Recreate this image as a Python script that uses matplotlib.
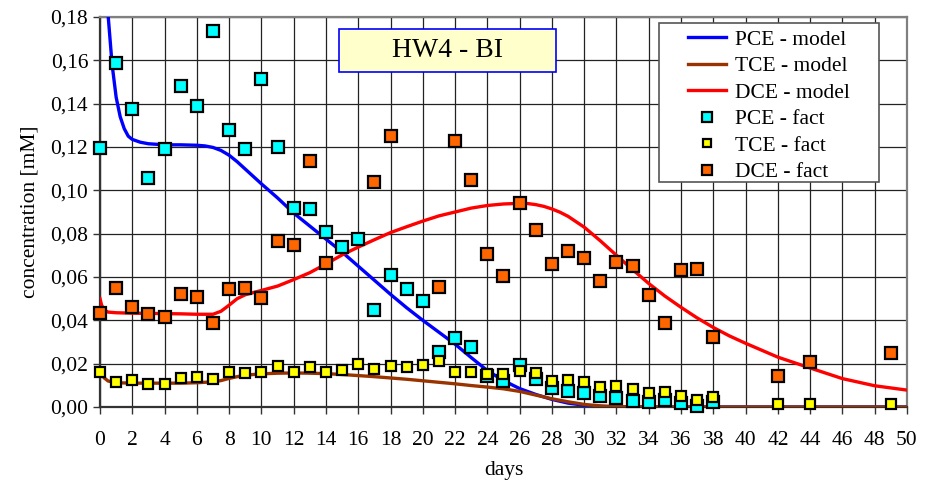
import matplotlib
matplotlib.use("Agg")
from matplotlib import pyplot as plt
from matplotlib.patches import Rectangle
import numpy as np

plt.rcParams['font.family'] = ['Liberation Serif', 'DejaVu Serif']

# measured data (days)
fact_days = [0, 1, 2, 3, 4, 5, 6, 7, 8, 9, 10, 11, 12, 13, 14, 15, 16, 17, 18, 19,
             20, 21, 22, 23, 24, 25, 26, 27, 28, 29, 30, 31, 32, 33, 34, 35, 36, 37, 38]
pce_fact = [0.1197, 0.1586, 0.1377, 0.1055, 0.1192, 0.148, 0.1389, 0.1737, 0.128, 0.1192,
            0.1514, 0.1201, 0.0917, 0.0914, 0.081, 0.0738, 0.0775, 0.045, 0.0608, 0.0545,
            0.0489, 0.0255, 0.0317, 0.0275, 0.0143, 0.012, 0.0195, 0.0127, 0.0086, 0.0074,
            0.0063, 0.0051, 0.004, 0.0029, 0.0022, 0.0032, 0.0017, 0.0006, 0.0023]
tce_days = fact_days + [42, 44, 49]
tce_fact = [0.016, 0.0116, 0.0124, 0.0105, 0.0105, 0.0135, 0.0139, 0.013, 0.0161, 0.0155,
            0.0162, 0.0191, 0.0161, 0.0183, 0.0163, 0.0171, 0.0198, 0.0174, 0.019, 0.0186,
            0.0194, 0.0214, 0.016, 0.0163, 0.0152, 0.0151, 0.0167, 0.0155, 0.0121, 0.0124,
            0.0114, 0.0091, 0.0098, 0.0083, 0.0063, 0.0068, 0.0052, 0.0032, 0.0047,
            0.0014, 0.0012, 0.0012]
dce_days = [0, 1, 2, 3, 4, 5, 6, 7, 8, 9, 10, 11, 12, 13, 14, 17, 18, 21, 22, 23, 24, 25,
            26, 27, 28, 29, 30, 31, 32, 33, 34, 35, 36, 37, 38, 42, 44, 49]
dce_fact = [0.0435, 0.0548, 0.046, 0.043, 0.0414, 0.0521, 0.0506, 0.0386, 0.0546, 0.0549,
            0.0501, 0.0765, 0.0749, 0.1136, 0.0665, 0.104, 0.125, 0.0552, 0.1226, 0.105,
            0.0706, 0.0604, 0.094, 0.0817, 0.066, 0.072, 0.0686, 0.058, 0.0669, 0.065,
            0.0517, 0.0388, 0.0632, 0.0637, 0.0323, 0.0143, 0.021, 0.0249]

# model curves
pce_model_days = [0, 0.25, 0.5, 0.75, 1.0, 1.25, 1.5, 1.75, 2, 2.5, 3, 4, 5, 6, 6.5, 7,
                  7.5, 8, 8.5, 9, 10, 11, 12, 13, 14, 15, 16, 17, 18, 19, 20, 21, 22, 23,
                  24, 25, 26, 27, 28, 29, 30, 31, 32, 40, 50]
pce_model = [0.26, 0.215, 0.181, 0.158, 0.143, 0.134, 0.1285, 0.125, 0.1235, 0.1222,
             0.1215, 0.121, 0.121, 0.1208, 0.1205, 0.1198, 0.1184, 0.1162, 0.1132,
             0.1098, 0.103, 0.0965, 0.0895, 0.0835, 0.0775, 0.0715, 0.065, 0.0585, 0.052,
             0.0458, 0.040, 0.0345, 0.029, 0.0228, 0.0168, 0.0122, 0.0085, 0.0058,
             0.0035, 0.0018, 0.0008, 0.0003, 0.0, 0.0, 0.0]
tce_model_days = [0, 0.25, 0.5, 1, 2, 3, 4, 5, 6, 7, 7.5, 8, 8.5, 9, 10, 11, 12, 13, 14,
                  15, 16, 17, 18, 19, 20, 21, 22, 23, 24, 25, 26, 27, 28, 29, 30, 31, 32,
                  33, 34, 50]
tce_model = [0.016, 0.0135, 0.012, 0.0112, 0.011, 0.011, 0.011, 0.011, 0.0112, 0.0116,
             0.0122, 0.0132, 0.014, 0.0147, 0.0153, 0.0156, 0.0157, 0.0156, 0.0154,
             0.015, 0.0145, 0.014, 0.0134, 0.0128, 0.0121, 0.0114, 0.0107, 0.0099,
             0.0092, 0.0084, 0.0072, 0.0055, 0.0038, 0.0024, 0.0012, 0.0005, 0.0002,
             0.0001, 0.0, 0.0]
dce_model_days = [0, 0.1, 0.25, 0.5, 1, 2, 3, 4, 5, 6, 7, 7.5, 8, 8.5, 9, 10, 11, 12, 13,
                  14, 15, 16, 17, 18, 19, 20, 21, 22, 23, 24, 25, 26, 26.5, 27, 27.5, 28,
                  28.5, 29, 30, 31, 32, 33, 34, 35, 36, 37, 38, 39, 40, 42, 44, 46, 48, 50]
dce_model = [0.050, 0.047, 0.0448, 0.0438, 0.0435, 0.0433, 0.0432, 0.0431, 0.043, 0.0428,
             0.0428, 0.0442, 0.047, 0.050, 0.0518, 0.0538, 0.0558, 0.0588, 0.062, 0.066,
             0.0702, 0.0738, 0.0772, 0.0805, 0.0832, 0.0858, 0.0882, 0.090, 0.0918,
             0.093, 0.0937, 0.094, 0.0939, 0.0934, 0.0926, 0.0914, 0.0899, 0.0880, 0.0830,
             0.0767, 0.0700, 0.0634, 0.0570, 0.0512, 0.0460, 0.0411, 0.0367, 0.0328,
             0.0294, 0.023, 0.018, 0.0131, 0.0098, 0.0078]

x_ticks = list(range(0, 51, 2))
y_ticks = [0.0, 0.02, 0.04, 0.06, 0.08, 0.10, 0.12, 0.14, 0.16, 0.18]
y_tick_labels = ["0,00", "0,02", "0,04", "0,06", "0,08", "0,10", "0,12", "0,14", "0,16", "0,18"]

fig = plt.figure(figsize=(9.45, 4.84), dpi=100)
ax = fig.add_axes([100 / 945, 1 - 407 / 484, 807 / 945, 390 / 484])

ax.plot(pce_model_days, pce_model, color="#0000FF", lw=2.4, label="PCE - model", zorder=3)
ax.plot(tce_model_days, tce_model, color="#993300", lw=2.4, label="TCE - model", zorder=3)
ax.plot(dce_model_days, dce_model, color="#FF0000", lw=2.4, label="DCE - model", zorder=3)
ax.plot(fact_days, pce_fact, ls="none", marker="s", ms=9, mfc="#00FFFF", mec="black",
        mew=1.6, label="PCE - fact", zorder=4, clip_on=False)
ax.plot(tce_days, tce_fact, ls="none", marker="s", ms=7.5, mfc="#FFFF00", mec="black",
        mew=1.6, label="TCE - fact", zorder=4, clip_on=False)
ax.plot(dce_days, dce_fact, ls="none", marker="s", ms=9, mfc="#FF6600", mec="black",
        mew=1.6, label="DCE - fact", zorder=4, clip_on=False)

ax.set_xlim(0, 50)
ax.set_ylim(0, 0.18)
ax.set_xticks(x_ticks)
ax.set_yticks(y_ticks)
ax.set_yticklabels(y_tick_labels)
ax.tick_params(direction="out", length=5, width=1, labelsize=15.5, color="#333333")
ax.tick_params(axis="x", pad=12)
ax.grid(True, color="#222222", lw=0.9)
ax.set_axisbelow(True)
for side in ["top", "right"]:
    ax.spines[side].set_color("#808080")
    ax.spines[side].set_linewidth(1.6)
for side in ["left", "bottom"]:
    ax.spines[side].set_color("#333333")
    ax.spines[side].set_linewidth(1.6)

ax.set_xlabel("days", fontsize=15.5, labelpad=8)
ax.set_ylabel("concentration [mM]", fontsize=15.5, labelpad=8)

# title box
ax.add_patch(Rectangle((0.2962, 0.859), 0.2689, 0.1103, transform=ax.transAxes,
                       facecolor="#FFFFCC", edgecolor="#0000FF", lw=1.2, zorder=5))
ax.text(0.4306, 0.914, "HW4 - BI", transform=ax.transAxes, ha="center", va="center",
        fontsize=20, zorder=6)

# legend frame drawn by hand, legend itself without frame
ax.add_patch(Rectangle((0.6927, 0.5769), 0.2726, 0.4077, transform=ax.transAxes,
                       facecolor="white", edgecolor="#555555", lw=1.2, zorder=5))
leg = ax.legend(loc="upper left", bbox_to_anchor=(0.7286, 0.968), frameon=False,
                fontsize=15.5, handlelength=1.75, handletextpad=0.45, labelspacing=0.3,
                borderpad=0, borderaxespad=0, markerscale=0.85)
leg.set_zorder(6)

fig.savefig("out.png", dpi=100)
